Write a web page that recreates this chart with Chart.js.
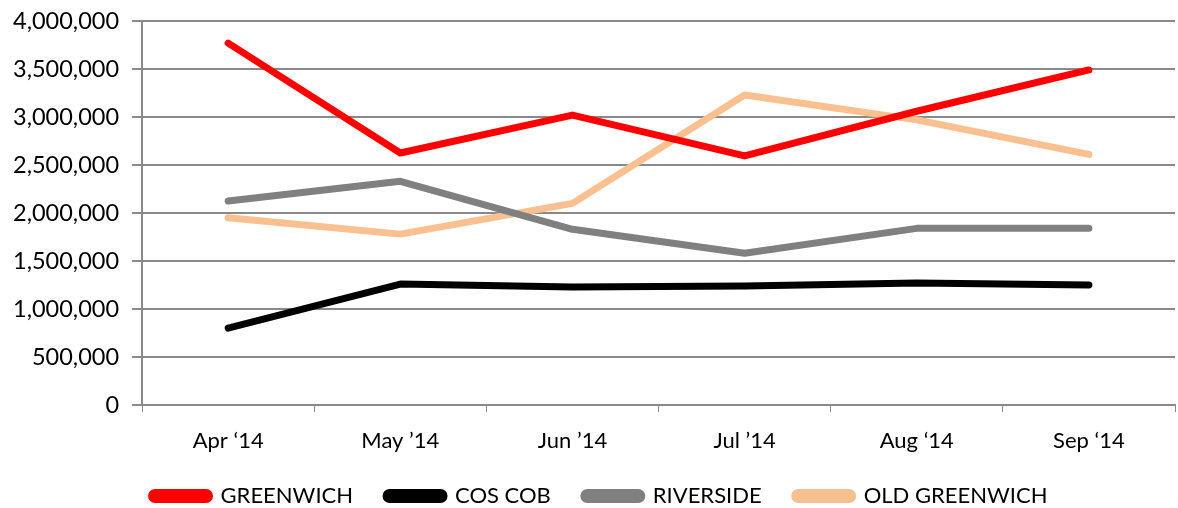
<!DOCTYPE html>
<html lang="en">
<head>
    <meta charset="UTF-8">
    <title>Sales by Area</title>
    <style>
        body { margin: 0; background: #fff; }
        #wrap { width: 1178px; height: 508px; }
    </style>
</head>
<body>
    <div id="wrap"><canvas id="myChart" width="1178" height="508"></canvas></div>

    <script src="https://cdn.jsdelivr.net/npm/chart.js"></script>
    <script>
        // chart data
        const months = ['Apr \u201814', 'May \u201914', 'Jun \u201914', 'Jul \u201914', 'Aug \u201814', 'Sep \u201814'];
        const greenwich = [3770000, 2625000, 3020000, 2595000, 3060000, 3490000];
        const cosCob = [800000, 1260000, 1230000, 1240000, 1270000, 1250000];
        const riverside = [2125000, 2330000, 1830000, 1580000, 1840000, 1840000];
        const oldGreenwich = [1950000, 1780000, 2100000, 3230000, 2970000, 2610000];

        const gridColor = '#898989';
        const fontFamily = 'Lato, "Open Sans", sans-serif';
        const legendPad = 33;

        function series(label, data, color) {
            return {
                label: label,
                data: data,
                borderColor: color,
                backgroundColor: color,
                borderWidth: 7,
                borderCapStyle: 'round',
                borderJoinStyle: 'round',
                pointRadius: 0,
                tension: 0
            };
        }

        const ctx = document.getElementById('myChart').getContext('2d');
        const myChart = new Chart(ctx, {
            type: 'line',
            data: {
                labels: months,
                datasets: [
                    series('GREENWICH', greenwich, '#ff0000'),
                    series('COS COB', cosCob, '#000000'),
                    series('RIVERSIDE', riverside, '#808080'),
                    series('OLD GREENWICH', oldGreenwich, '#fac090')
                ]
            },
            options: {
                responsive: false,
                animation: false,
                layout: { padding: { top: 0, right: 3, left: 0, bottom: 0 } },
                plugins: {
                    tooltip: { enabled: false },
                    legend: {
                        position: 'bottom',
                        labels: {
                            color: '#000',
                            font: { family: fontFamily, size: 22 },
                            boxWidth: 58,
                            boxHeight: 7,
                            useBorderRadius: true,
                            borderRadius: 3.5,
                            padding: legendPad
                        }
                    }
                },
                scales: {
                    x: {
                        offset: true,
                        grid: {
                            offset: true,
                            drawOnChartArea: false,
                            color: gridColor,
                            tickLength: 7
                        },
                        border: { color: gridColor, width: 2 },
                        ticks: {
                            color: '#000',
                            font: { family: fontFamily, size: 22 },
                            padding: 16,
                            maxRotation: 0
                        },
                        afterFit: axis => { axis.height = 80 - legendPad; }
                    },
                    y: {
                        min: 0,
                        max: 4000000,
                        grid: {
                            color: gridColor,
                            lineWidth: 2,
                            tickLength: 10
                        },
                        border: { color: gridColor, width: 2 },
                        ticks: {
                            stepSize: 500000,
                            color: '#000',
                            font: { family: fontFamily, size: 23.5 },
                            padding: 13,
                            callback: v => v.toLocaleString('en-US')
                        },
                        afterFit: axis => { axis.paddingTop = 21; }
                    }
                }
            },
            plugins: [{
                // legend sits low and a bit right of centre
                id: 'legendLow',
                beforeInit(chart) {
                    const fit = chart.legend.fit;
                    chart.legend.fit = function () {
                        fit.call(this);
                        this.height = 23 + legendPad;
                    };
                },
                afterLayout(chart) {
                    chart.legend.left += 12;
                    chart.legend.right += 12;
                }
            }]
        });
    </script>
</body>
</html>
